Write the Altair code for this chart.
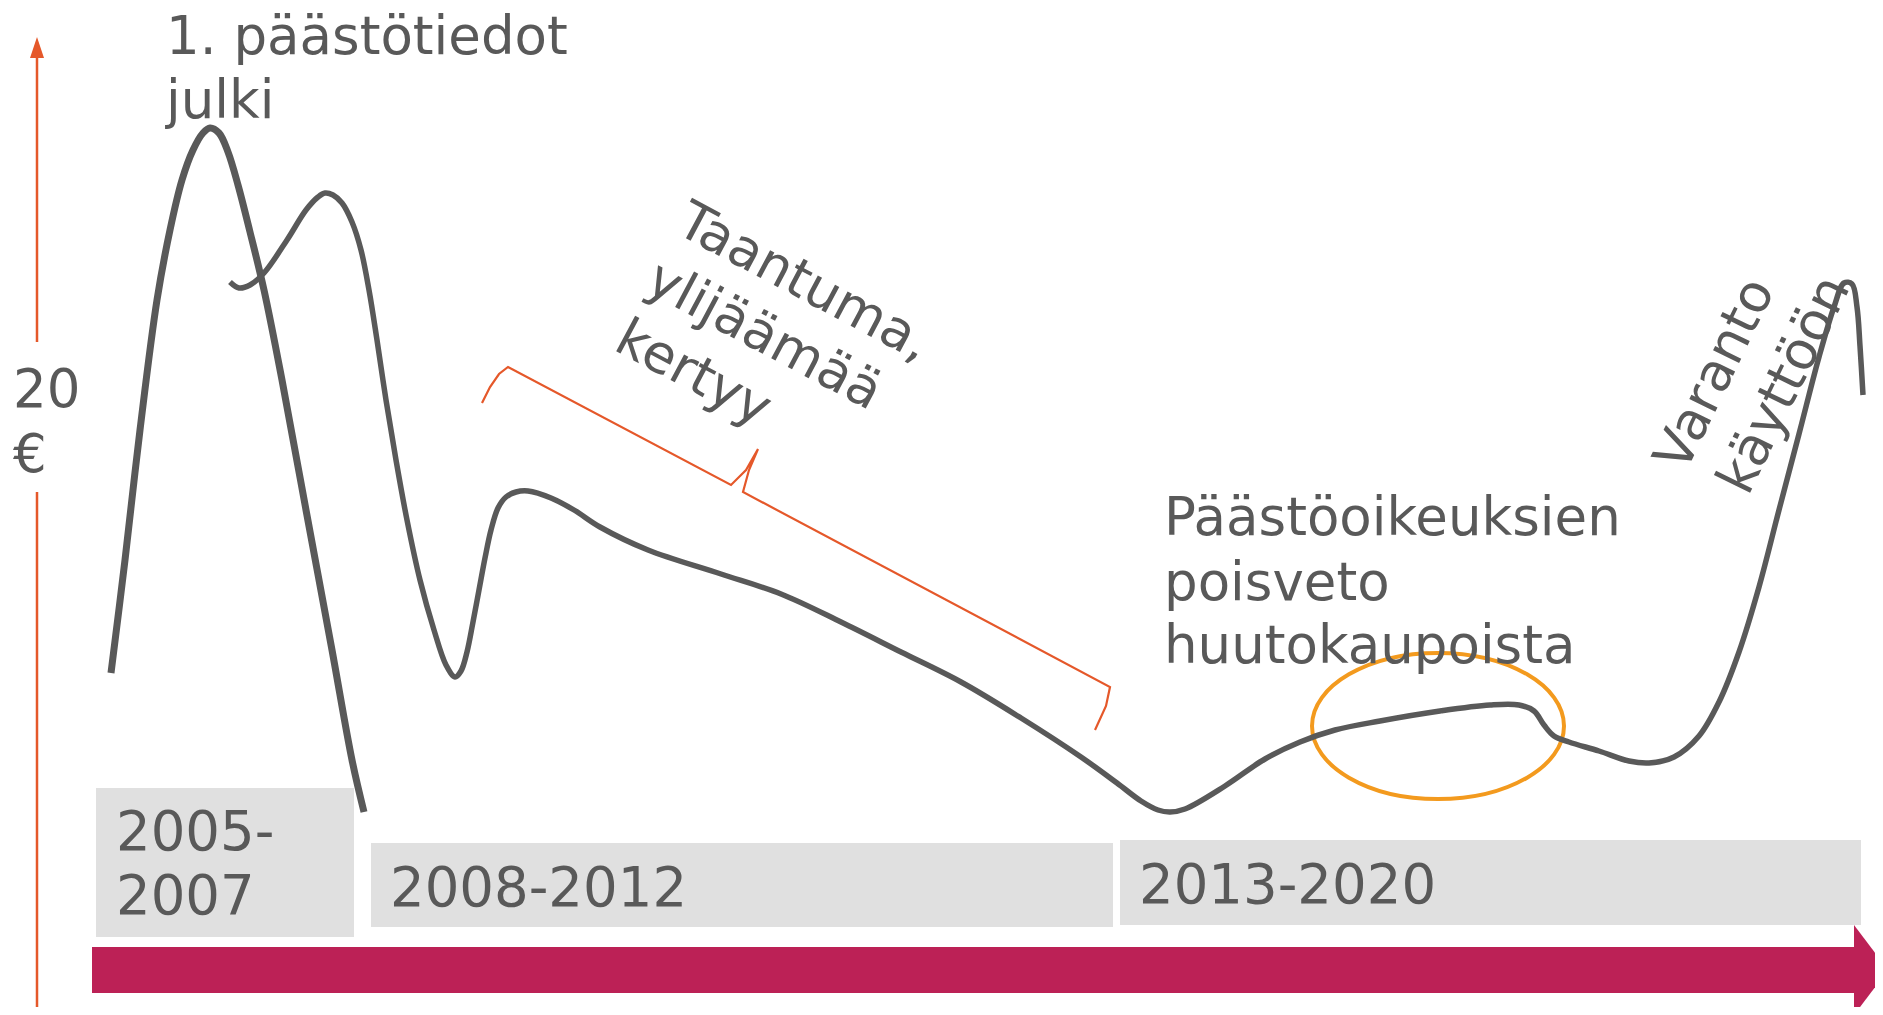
import altair as alt
import pandas as pd

# ---------------- data (chart units: horizontal position, vertical position downwards) ----
# Price curve, period 1 (2005-2007)
c1_x = [111, 125, 140, 157, 170, 182, 193, 203, 210, 219, 228, 238, 250, 264, 282, 306, 332, 352, 364]
c1_y = [673, 560, 430, 300, 230, 180, 150, 133, 128, 133, 152, 185, 232, 290, 380, 510, 650, 760, 812]

# Price curve, periods 2-3 (2008-2020)
c2_x = [230, 239, 250, 264, 287, 306, 318, 325, 333, 342, 352, 361, 369, 377, 386, 396, 407, 420,
        434, 446, 455, 461, 467, 473, 479, 485, 491, 498, 506, 516, 528, 551, 574, 600, 648, 721, 781,
        841, 901, 961, 1021, 1081, 1117, 1141, 1158, 1170, 1185, 1225, 1265, 1300, 1335, 1380,
        1440, 1490, 1519, 1534, 1544, 1554, 1569, 1599, 1629, 1649, 1674, 1699, 1719, 1739, 1759,
        1779, 1799, 1819, 1834, 1844, 1852, 1857, 1860, 1863]
c2_y = [282, 288, 285, 273, 240, 210, 197, 193, 195, 203, 222, 250, 290, 340, 400, 460, 520, 580,
        630, 665, 677, 671, 652, 622, 590, 558, 530, 508, 497, 492, 491, 498, 510, 527, 550, 574, 594,
        622, 652, 682, 718, 757, 783, 801, 810, 812, 809, 786, 759, 742, 730, 721,
        711, 705, 705, 711, 725, 736, 742, 751, 761, 763, 757, 736, 702, 652, 587,
        510, 434, 357, 307, 283, 284, 307, 346, 395]

# Curly bracket over the recession period
br_x = [482, 490, 499, 508, 731, 746, 758, 749, 743, 1110, 1106, 1095]
br_y = [403, 387, 374, 367, 485, 470, 449, 470, 492, 687, 706, 730]

# Ellipse highlighting the back-loading
ell_x = [1438]
ell_y = [726]

# Period boxes
box_x = [96, 371, 1120]
box_x2 = [354, 1113, 1861]
box_y = [788, 843, 840]
box_y2 = [937, 927, 925]

# Horizontal annotation labels
lab_text = ["1. päästötiedot", "julki", "20", "€",
            "Päästöoikeuksien", "poisveto", "huutokaupoista"]
lab_x = [166, 166, 13, 13, 1164, 1164, 1164]
lab_y = [54, 118, 407, 472, 535, 600, 663]

# Period labels
per_text = ["2005-", "2007", "2008-2012", "2013-2020"]
per_x = [116, 116, 390, 1139]
per_y = [850, 914, 906, 903]

# Rotated labels
rot1_text = ["Taantuma,", "ylijäämää", "kertyy"]
rot1_x = [674, 643, 612]
rot1_y = [232, 290, 349]

rot2_text = ["Varanto", "käyttöön"]
rot2_x = [1685, 1748]
rot2_y = [474, 497]

# Vertical price axis (two segments, gap for label) and its arrowhead
ax_x = [37, 37]
ax_y = [54, 492]
ax_y2 = [342, 1007]
axh_y = [37, 58]
axh_x = [37, 30]
axh_x2 = [37, 44]

# Time arrow
tb_x, tb_x2, tb_y, tb_y2 = [92], [1856], [947], [993]
th_x = [1854, 1888]
th_y = [925, 970]
th_y2 = [1015, 970]

# ---------------- chart ----------------
W, H = 1867, 999
X = alt.Scale(domain=[8, 8 + W], nice=False, zero=False)
Y = alt.Scale(domain=[8, 8 + H], nice=False, zero=False, reverse=True)
GRAY = "#595959"
ORANGE = "#E5582A"
FONT = "DejaVu Sans"


def xq(f):
    return alt.X(f, type="quantitative", scale=X, axis=None)


def yq(f):
    return alt.Y(f, type="quantitative", scale=Y, axis=None)


boxes = alt.Chart(pd.DataFrame({"x": box_x, "x2": box_x2, "y": box_y, "y2": box_y2})).mark_rect(
    color="#E0E0E0").encode(x=xq("x"), x2="x2", y=yq("y"), y2="y2")

tbody = alt.Chart(pd.DataFrame({"x": tb_x, "x2": tb_x2, "y": tb_y, "y2": tb_y2})).mark_rect(
    color="#BC2156").encode(x=xq("x"), x2="x2", y=yq("y"), y2="y2")

thead = alt.Chart(pd.DataFrame({"x": th_x, "y": th_y, "y2": th_y2})).mark_area(
    color="#BC2156", orient="vertical").encode(x=xq("x"), y=yq("y"), y2="y2")

axis_line = alt.Chart(pd.DataFrame({"x": ax_x, "y": ax_y, "y2": ax_y2})).mark_rule(
    color=ORANGE, strokeWidth=2.5).encode(x=xq("x"), y=yq("y"), y2="y2")

axis_head = alt.Chart(pd.DataFrame({"y": axh_y, "x": axh_x, "x2": axh_x2})).mark_area(
    color=ORANGE, orient="horizontal").encode(y=yq("y"), x=xq("x"), x2="x2")

curve1 = alt.Chart(pd.DataFrame({"x": c1_x, "y": c1_y, "o": range(len(c1_x))})).mark_line(
    color=GRAY, strokeWidth=7, interpolate="catmull-rom", strokeCap="butt").encode(
    x=xq("x"), y=yq("y"), order="o:Q")

curve2 = alt.Chart(pd.DataFrame({"x": c2_x, "y": c2_y, "o": range(len(c2_x))})).mark_line(
    color=GRAY, strokeWidth=5.5, interpolate="catmull-rom", strokeCap="butt").encode(
    x=xq("x"), y=yq("y"), order="o:Q")

bracket = alt.Chart(pd.DataFrame({"x": br_x, "y": br_y, "o": range(len(br_x))})).mark_line(
    color=ORANGE, strokeWidth=2.2, interpolate="linear").encode(
    x=xq("x"), y=yq("y"), order="o:Q")

ellipse = alt.Chart(pd.DataFrame({"x": ell_x, "y": ell_y})).mark_point(
    shape="M -1 0 A 1 0.58 0 1 1 1 0 A 1 0.58 0 1 1 -1 0 Z",
    size=252 * 252, filled=False, color="#F39A1E", strokeWidth=4, opacity=1).encode(
    x=xq("x"), y=yq("y"))

labels = alt.Chart(pd.DataFrame({"t": lab_text, "x": lab_x, "y": lab_y})).mark_text(
    font=FONT, fontSize=53, color=GRAY, align="left", baseline="alphabetic").encode(
    x=xq("x"), y=yq("y"), text="t:N")

periods = alt.Chart(pd.DataFrame({"t": per_text, "x": per_x, "y": per_y})).mark_text(
    font=FONT, fontSize=54.5, color=GRAY, align="left", baseline="alphabetic").encode(
    x=xq("x"), y=yq("y"), text="t:N")

rot1 = alt.Chart(pd.DataFrame({"t": rot1_text, "x": rot1_x, "y": rot1_y})).mark_text(
    font=FONT, fontSize=53, color=GRAY, align="left", baseline="alphabetic", angle=28).encode(
    x=xq("x"), y=yq("y"), text="t:N")

rot2 = alt.Chart(pd.DataFrame({"t": rot2_text, "x": rot2_x, "y": rot2_y})).mark_text(
    font=FONT, fontSize=53, color=GRAY, align="left", baseline="alphabetic", angle=296).encode(
    x=xq("x"), y=yq("y"), text="t:N")

chart = alt.layer(
    boxes, tbody, thead, axis_line, axis_head, bracket, ellipse,
    labels, periods, rot1, rot2, curve1, curve2,
).properties(
    width=W, height=H, padding=0, autosize=alt.AutoSizeParams(type="none"),
    background="white",
).configure_view(strokeWidth=0)

chart.save("out.html", embed_options={"renderer": "svg", "actions": False})
